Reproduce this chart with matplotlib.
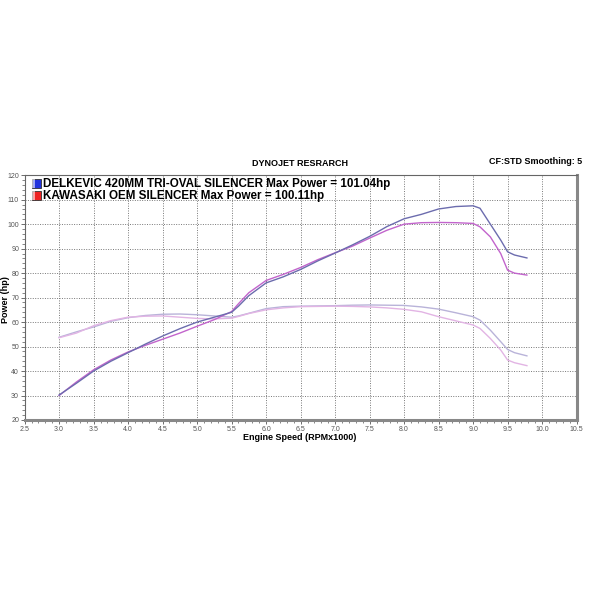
import matplotlib

matplotlib.use("Agg")
import matplotlib.pyplot as plt
from matplotlib.patches import Rectangle
from matplotlib.ticker import MultipleLocator, FormatStrFormatter

plt.rcParams["font.family"] = ["Liberation Sans", "DejaVu Sans"]

# engine speed (RPM x 1000) sample points
rpm = [3.0, 3.25, 3.5, 3.75, 4.0, 4.25, 4.5, 4.75, 5.0, 5.25, 5.5, 5.6, 5.75,
       6.0, 6.25, 6.5, 6.75, 7.0, 7.25, 7.5, 7.75, 8.0, 8.25, 8.5, 8.75,
       9.0, 9.1, 9.25, 9.4, 9.5, 9.6, 9.78]

power_delkevic = [30.2, 35.0, 40.0, 44.0, 47.5, 51.0, 54.3, 57.3, 60.0, 62.0,
                  64.0, 66.5, 70.8, 76.0, 78.5, 81.5, 85.0, 88.2, 91.5, 95.0,
                  99.0, 102.2, 104.0, 106.2, 107.2, 107.5, 106.5, 100.0, 93.5,
                  88.7, 87.4, 86.2]
power_oem = [30.0, 35.5, 40.5, 44.5, 47.8, 50.5, 53.0, 55.5, 58.3, 61.0,
             64.3, 67.5, 72.0, 77.0, 79.5, 82.3, 85.5, 88.3, 91.0, 94.3,
             97.5, 100.0, 100.6, 100.7, 100.6, 100.3, 98.9, 94.8, 88.0,
             81.2, 80.0, 79.2]
torque_delkevic = [53.8, 56.0, 58.0, 60.3, 61.8, 62.7, 63.2, 63.3, 63.0, 62.5,
                   62.0, 62.5, 63.6, 65.5, 66.3, 66.5, 66.6, 66.7, 66.9, 67.0,
                   66.9, 66.8, 66.2, 65.3, 63.8, 62.2, 60.8, 56.7, 52.0, 48.8,
                   47.5, 46.2]
torque_oem = [53.6, 55.5, 58.5, 60.6, 62.0, 62.4, 62.5, 62.0, 61.5, 61.3,
              61.6, 62.3, 63.5, 65.0, 65.8, 66.3, 66.4, 66.5, 66.4, 66.2,
              65.8, 65.2, 64.2, 62.2, 60.5, 58.8, 57.4, 53.3, 48.6, 44.5,
              43.4, 42.2]

legend_lines = [
    "DELKEVIC 420MM TRI-OVAL SILENCER Max Power = 101.04hp",
    "KAWASAKI OEM SILENCER Max Power = 100.11hp",
]

fig = plt.figure(figsize=(6, 6), dpi=100)
ax = fig.add_axes([0.041, 0.30, 0.920, 0.408])

ax.plot(rpm, torque_delkevic, color="#b9b3d9", lw=1.0)
ax.plot(rpm, torque_oem, color="#e2b4e4", lw=1.0)
ax.plot(rpm, power_oem, color="#c264cc", lw=1.0)
ax.plot(rpm, power_delkevic, color="#6c6cae", lw=1.0)

ax.set_xlim(2.5, 10.5)
ax.set_ylim(20, 120)
ax.xaxis.set_major_locator(MultipleLocator(0.5))
ax.xaxis.set_minor_locator(MultipleLocator(0.1))
ax.yaxis.set_major_locator(MultipleLocator(10))
ax.yaxis.set_minor_locator(MultipleLocator(2))
ax.xaxis.set_major_formatter(FormatStrFormatter("%.1f"))
ax.tick_params(which="both", direction="out", colors="#555555", labelsize=5,
               pad=1)
ax.tick_params(which="major", length=3, width=0.6)
ax.tick_params(which="minor", length=2, width=0.5)
ax.grid(True, which="major", color="#777777", ls=(0, (1, 1.5)), lw=0.7)

for side in ("top", "left"):
    ax.spines[side].set_color("#666666")
    ax.spines[side].set_linewidth(0.8)
for side in ("right", "bottom"):
    ax.spines[side].set_color("#888888")
    ax.spines[side].set_linewidth(2.2)

# legend entries with coloured swatches
for i, (txt, col) in enumerate(zip(legend_lines, ["#2233dd", "#ee2222"])):
    y = 0.965 - i * 0.049
    ax.add_patch(Rectangle((0.014, y - 0.018), 0.016, 0.036, transform=ax.transAxes,
                           facecolor=col, edgecolor="#333333", lw=0.6, zorder=5))
    ax.add_patch(Rectangle((0.014, y - 0.018), 0.005, 0.036, transform=ax.transAxes,
                           facecolor="white", alpha=0.6, lw=0, zorder=6))
    ax.text(0.033, y, txt, transform=ax.transAxes, fontsize=8.4, fontweight="bold",
            va="center", ha="left", zorder=6)

fig.text(0.5, 0.728, "DYNOJET RESRARCH", fontsize=6.5, fontweight="bold",
         ha="center", va="center")
fig.text(0.97, 0.730, "CF:STD Smoothing: 5", fontsize=6.5, fontweight="bold",
         ha="right", va="center")
fig.text(0.5, 0.27, "Engine Speed (RPMx1000)", fontsize=6.5, fontweight="bold",
         ha="center", va="center")
fig.text(0.010, 0.50, "Power (hp)", fontsize=6.5, fontweight="bold",
         ha="center", va="center", rotation=90)

fig.savefig("out.png", dpi=100, facecolor="white")
